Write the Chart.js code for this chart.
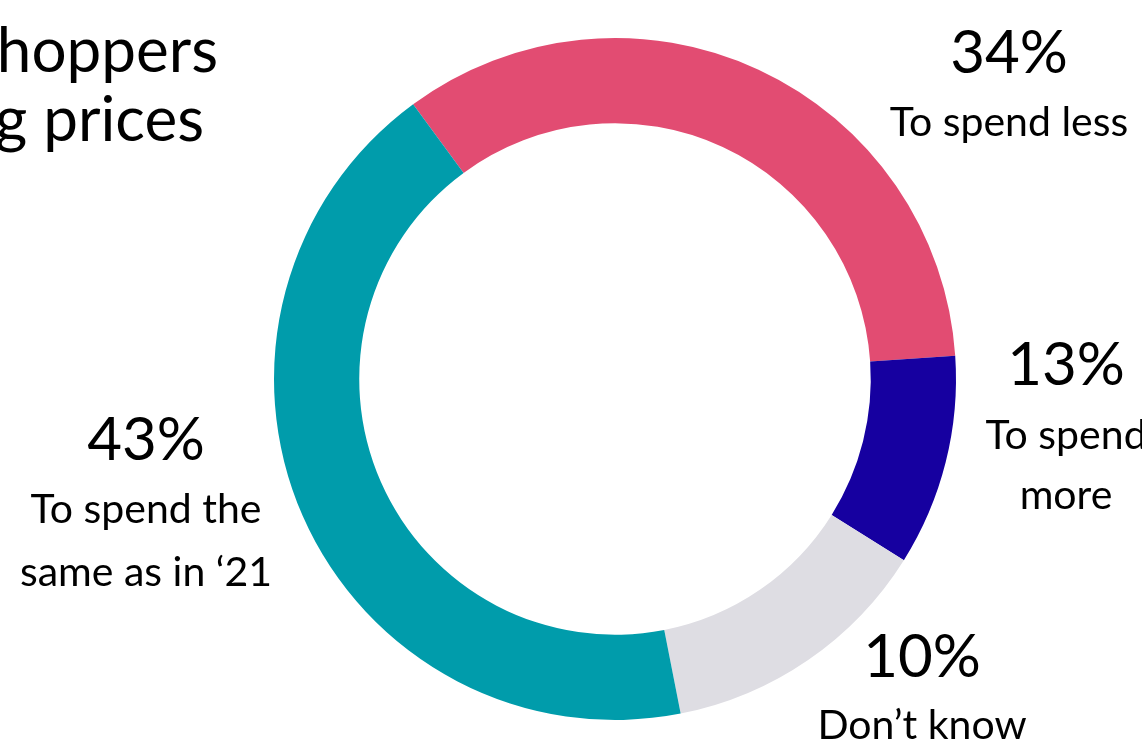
<!DOCTYPE html>
<html>
<head>
<meta charset="utf-8">
<script src="https://cdn.jsdelivr.net/npm/chart.js@4.4.0/dist/chart.umd.min.js"></script>
<style>
  html, body { margin: 0; padding: 0; background: #ffffff; }
  #wrap { position: relative; width: 1142px; height: 743px; overflow: hidden; }
</style>
</head>
<body>
<div id="wrap"><canvas id="c" width="1142" height="743"></canvas></div>
<script>
// ---- data ----
const categories = ['To spend less', 'To spend more', 'Don\u2019t know', 'To spend the same as in \u201821'];
const shares = [34, 10, 13, 43];            // arc sizes as drawn
const percentLabels = ['34%', '13%', '10%', '43%'];
const labelLines = [
  ['To spend less'],
  ['To spend', 'more'],
  ['Don\u2019t know'],
  ['To spend the', 'same as in \u201821']
];
const titleLines = ['hoppers', 'g prices'];
const colors = ['#E24C72', '#1600A0', '#DEDDE3', '#009CAB'];

// ---- layout (positions only) ----
const FONT = 'Lato, "Open Sans", sans-serif';
const labelPos = [
  { x: 1009, pctY: 73,  lineY: [136] },
  { x: 1066, pctY: 385, lineY: [449, 509] },
  { x: 922,  pctY: 677, lineY: [739] },
  { x: 146,  pctY: 460, lineY: [523, 586] }
];

const textPlugin = {
  id: 'texts',
  afterDraw(chart) {
    const ctx = chart.ctx;
    ctx.save();
    ctx.fillStyle = '#000';
    ctx.textBaseline = 'alphabetic';
    // title fragments (cropped at left edge)
    ctx.font = '400 62px ' + FONT;
    ctx.textAlign = 'right';
    ctx.fillText(titleLines[0], 218, 72);
    ctx.fillText(titleLines[1], 204, 141);
    // labels
    ctx.textAlign = 'center';
    labelPos.forEach((p, i) => {
      ctx.font = '400 60px ' + FONT;
      ctx.fillText(percentLabels[i], p.x, p.pctY);
      ctx.font = '400 41px ' + FONT;
      labelLines[i].forEach((t, j) => ctx.fillText(t, p.x, p.lineY[j]));
    });
    ctx.restore();
  }
};

new Chart(document.getElementById('c'), {
  type: 'doughnut',
  data: {
    labels: categories,
    datasets: [{
      data: shares,
      backgroundColor: colors,
      borderWidth: 0,
      hoverOffset: 0
    }]
  },
  options: {
    responsive: false,
    animation: false,
    cutout: '75%',
    rotation: -36.3,
    layout: { padding: { left: 274, top: 38, right: 186, bottom: 23 } },
    plugins: { legend: { display: false }, tooltip: { enabled: false } }
  },
  plugins: [textPlugin]
});
</script>
</body>
</html>
